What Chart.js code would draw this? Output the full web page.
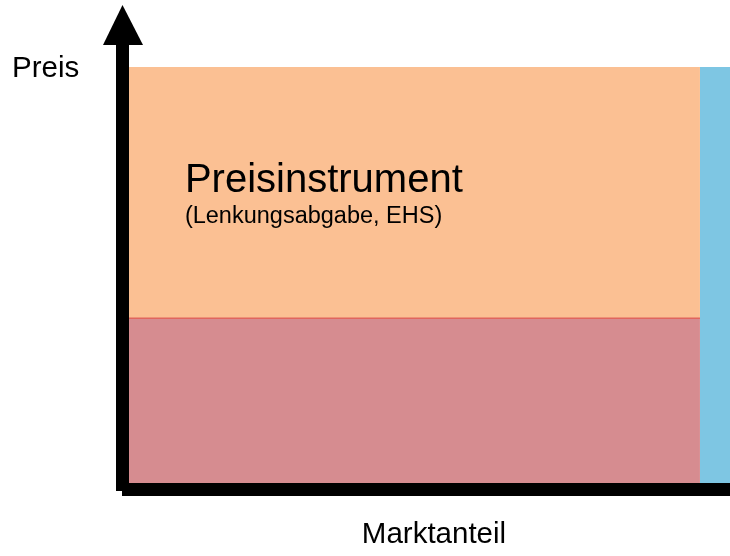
<!DOCTYPE html>
<html>
<head>
<meta charset="utf-8">
<script src="https://cdn.jsdelivr.net/npm/chart.js@4/dist/chart.umd.min.js"></script>
<style>
  html, body { margin: 0; padding: 0; background: #fff; }
</style>
</head>
<body>
<canvas id="chart" width="730" height="556"></canvas>
<script>
// Grenzen auf der Marktanteil-Achse (0..100)
const marketShare = [0, 95, 100];
// Preisniveaus der Flächen
const basePrice = [39.6, 39.6];     // untere Fläche
const instrumentPrice = [100, 100]; // Preisinstrument
const remainderPrice = [100, 100];  // Rest (rechts)

const axisTitles = { x: "Marktanteil", y: "Preis" };
const bandTitle = "Preisinstrument";
const bandSubtitle = "(Lenkungsabgabe, EHS)";

function segment(x0, x1, ys) {
  return [{ x: x0, y: ys[0] }, { x: x1, y: ys[1] }];
}

// Achsen, Pfeil und Beschriftungen
const diagramPlugin = {
  id: "diagram",
  afterDatasetsDraw(chart) {
    const ctx = chart.ctx;
    const { left, right, bottom } = chart.chartArea;
    const xs = chart.scales.x;
    ctx.save();
    ctx.fillStyle = "#000";
    // y-Achse mit Pfeil
    ctx.fillRect(left - 13, 44, 13, bottom + 8 - 44);
    ctx.beginPath();
    ctx.moveTo(left - 6.5, 5);
    ctx.lineTo(left + 14, 45);
    ctx.lineTo(left - 26, 45);
    ctx.closePath();
    ctx.fill();
    // x-Achse
    ctx.fillRect(left - 7, bottom, right - left + 7, 13);

    ctx.textBaseline = "alphabetic";
    ctx.textAlign = "left";
    ctx.font = "29.5px 'Liberation Sans', Arial, sans-serif";
    ctx.fillText(axisTitles.y, 12, 77);
    ctx.textAlign = "center";
    ctx.fillText(axisTitles.x, 434, 543);

    ctx.textAlign = "left";
    ctx.font = "40px 'Liberation Sans', Arial, sans-serif";
    ctx.fillText(bandTitle, xs.getPixelForValue(9.3), 192);
    ctx.font = "23.5px 'Liberation Sans', Arial, sans-serif";
    ctx.fillText(bandSubtitle, xs.getPixelForValue(9.3), 223);
    ctx.restore();
  }
};

new Chart(document.getElementById("chart"), {
  type: "line",
  data: {
    datasets: [
      {
        label: "Basis",
        data: segment(marketShare[0], marketShare[1], basePrice),
        backgroundColor: "#D68C90",
        borderColor: "#E0655E",
        borderWidth: 1.5,
        pointRadius: 0,
        fill: "origin",
      },
      {
        label: bandTitle,
        data: segment(marketShare[0], marketShare[1], instrumentPrice),
        backgroundColor: "#FBC093",
        borderWidth: 0,
        pointRadius: 0,
        fill: "-1",
      },
      {
        label: "Rest",
        data: segment(marketShare[1], marketShare[2], remainderPrice),
        backgroundColor: "#7EC6E3",
        borderWidth: 0,
        pointRadius: 0,
        fill: "origin",
      },
    ],
  },
  options: {
    responsive: false,
    animation: false,
    layout: { padding: { left: 129, right: 0, top: 67, bottom: 73 } },
    scales: {
      x: { type: "linear", min: 0, max: 100, display: false },
      y: { type: "linear", min: 0, max: 100, display: false },
    },
    plugins: {
      legend: { display: false },
      tooltip: { enabled: false },
    },
  },
  plugins: [diagramPlugin],
});
</script>
</body>
</html>
